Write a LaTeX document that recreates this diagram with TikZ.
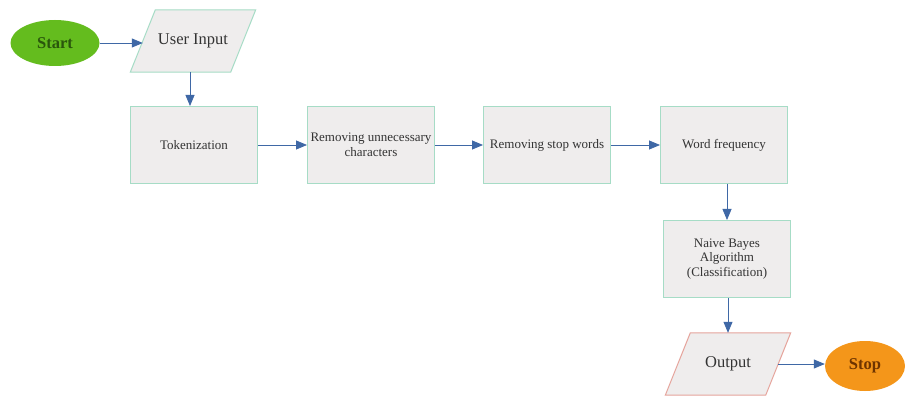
\documentclass[tikz,border=0pt]{standalone}
\usepackage{fontspec}
\setmainfont{Liberation Serif}
\newfontfamily\serifx{Liberation Serif}
\usetikzlibrary{arrows.meta,shapes.geometric}
\definecolor{boxfill}{HTML}{EFEDED}
\definecolor{boxline}{HTML}{A6DCC6}
\definecolor{outline}{HTML}{E6A49C}
\definecolor{arrowc}{HTML}{3F68A6}
\definecolor{startfill}{HTML}{64BC1E}
\definecolor{starttext}{HTML}{2A560C}
\definecolor{stopfill}{HTML}{F4961A}
\definecolor{stoptext}{HTML}{6E3400}
\definecolor{txt}{HTML}{333333}
\tikzset{
  procbox/.style={draw=boxline, fill=boxfill, line width=1pt, minimum width=127pt, minimum height=77pt, inner sep=0pt, align=center, font=\serifx\fontsize{13}{14.5}\selectfont, text=txt},
  iotext/.style={inner sep=0pt, minimum width=100pt, minimum height=62pt, font=\serifx\fontsize{16.5}{18}\selectfont, text=txt},
  term/.style={ellipse, inner sep=0pt, font=\serifx\bfseries\fontsize{16.5}{18}\selectfont},
  flow/.style={draw=arrowc, line width=0.8pt, -{Triangle[length=11pt,width=9pt]}, color=arrowc}
}
\begin{document}
\begin{tikzpicture}[x=1pt,y=-1pt]
\useasboundingbox[fill=white] (0,0) rectangle (905,398);
% terminals
\node[term, fill=startfill, text=starttext, minimum width=89pt, minimum height=46pt] (start) at (55,43) {Start};
\node[term, fill=stopfill, text=stoptext, minimum width=80pt, minimum height=50pt] (stop) at (865,366) {Stop};
% input / output parallelograms
\node[iotext] (ui) at (193,41) {};
\fill[boxfill] ([xshift=-12.5pt]ui.south west) -- ([xshift=-12.5pt]ui.south east) -- ([xshift=12.5pt]ui.north east) -- ([xshift=12.5pt]ui.north west) -- cycle;
\draw[boxline, line width=1pt] ([xshift=-12.5pt]ui.south west) -- ([xshift=-12.5pt]ui.south east) -- ([xshift=12.5pt]ui.north east) -- ([xshift=12.5pt]ui.north west) -- cycle;
\node[iotext] at (ui) {User Input};
\node[iotext] (out) at (728,364) {};
\fill[boxfill] ([xshift=-12.5pt]out.south west) -- ([xshift=-12.5pt]out.south east) -- ([xshift=12.5pt]out.north east) -- ([xshift=12.5pt]out.north west) -- cycle;
\draw[outline, line width=1pt] ([xshift=-12.5pt]out.south west) -- ([xshift=-12.5pt]out.south east) -- ([xshift=12.5pt]out.north east) -- ([xshift=12.5pt]out.north west) -- cycle;
\node[iotext] at (out) {Output};
% process boxes
\node[procbox] (tok) at (194,145) {Tokenization};
\node[procbox] (rem) at (371,145) {Removing unnecessary\\characters};
\node[procbox] (stopw) at (547,145) {Removing stop words};
\node[procbox] (wf) at (724,145) {Word frequency};
\node[procbox] (nb) at (727,259) {Naive Bayes\\Algorithm\\(Classification)};
% connectors
\draw[flow] (start.east) -- (start.east -| ui.west);
\draw[flow] ([xshift=-3pt]ui.south) -- ([xshift=-3pt]ui.south |- tok.north);
\draw[flow] (tok) -- (rem);
\draw[flow] (rem) -- (stopw);
\draw[flow] (stopw) -- (wf);
\draw[flow] (nb.north |- wf.south) -- (nb.north);
\draw[flow] (out.north |- nb.south) -- (out.north);
\draw[flow] (out.east) -- (out.east -| stop.west);
\end{tikzpicture}
\end{document}
